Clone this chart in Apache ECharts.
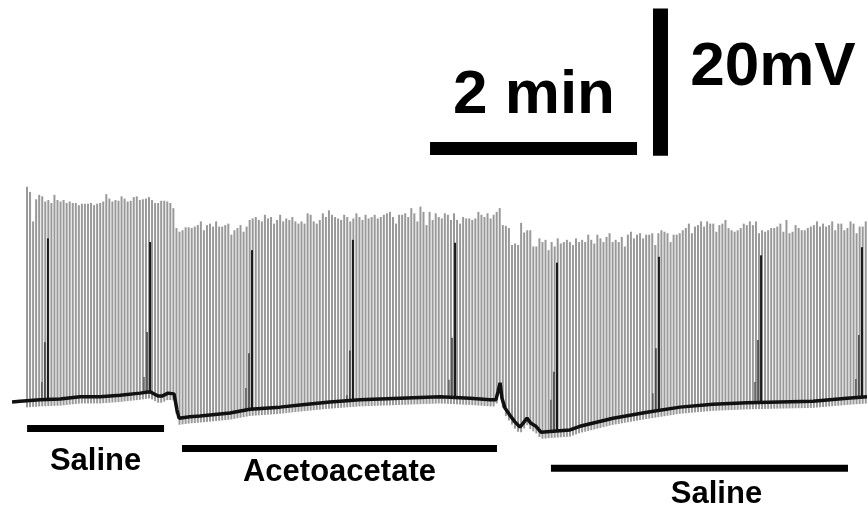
<!DOCTYPE html>
<html>
<head>
<meta charset="utf-8">
<script src="https://cdn.jsdelivr.net/npm/echarts@6/dist/echarts.min.js"></script>
<style>
  html, body { margin: 0; padding: 0; background: #fff; }
  #main { width: 868px; height: 514px; }
</style>
</head>
<body>
<div id="main"></div>
<script>
// time in seconds, membrane potential in mV
var isi = 1.768;                 // interval between spikes
var salineStart = 15.65;
var acetoStart = 102.3;
var washStart = 291.5;

// spike peaks, one per spike
var salinePeaks = [-30.6, -31.3, -35.3, -32.3, -31.7, -31.9, -32.6, -32.4, -32.8, -31.7,
  -32.4, -32.6, -32.4, -32.8, -32.6, -32.8, -32.8, -33.1, -32.9, -32.9,
  -32.9, -32.8, -33.1, -32.9, -32.8, -32.6, -31.6, -32.2, -32.6, -32.4,
  -32.5, -31.9, -32.2, -32.6, -32.5, -32.0, -31.9, -32.4, -32.3, -32.2,
  -32.0, -32.4, -32.8, -32.8, -32.5, -32.5, -32.6, -32.8, -33.5];

var acetoPeaks = [-36.2, -36.7, -36.5, -36.1, -36.1, -36.2, -36.0, -35.8, -35.3, -36.5,
  -35.8, -35.6, -36.0, -35.3, -36.0, -36.0, -35.8, -35.6, -37.1, -36.5,
  -36.2, -35.8, -36.7, -36.0,
  -35.1, -34.9, -34.7, -35.1, -35.3, -34.4, -34.9, -34.7, -35.6, -35.1,
  -34.4, -35.3, -34.9, -35.1, -34.7, -35.3, -35.6, -35.3, -35.6, -34.2,
  -34.4, -35.3, -35.6, -35.1, -34.2, -34.7, -33.8, -34.4, -34.7, -34.9,
  -35.1, -34.4, -34.7, -35.3, -34.9, -34.2, -34.7, -35.1, -34.4, -34.9,
  -34.7, -34.4, -34.9, -34.7, -34.4, -34.2, -34.0, -34.7, -35.6, -34.4,
  -34.4, -34.2, -34.7, -33.5, -34.2, -35.3, -33.3, -34.0, -35.8, -34.0,
  -35.1, -34.2, -34.7, -34.9, -34.2, -34.4, -35.1, -34.2, -35.1, -35.6,
  -34.7, -34.9, -34.9, -35.1, -34.9, -34.0, -34.4, -34.7, -34.2, -34.9,
  -34.4, -34.0, -33.5];

var washPeaks = [-35.8, -35.9, -36.2, -38.5, -38.3, -38.5, -35.5, -36.8, -36.5, -36.5,
  -38.7, -38.7, -37.6, -38.1, -37.8, -39.2,
  -38.1, -38.7, -37.6, -38.3, -38.1, -37.8, -38.1, -38.5, -37.6, -38.1,
  -37.8, -38.1, -37.1, -37.8, -38.3, -37.1, -37.6,
  -38.1, -37.4, -36.9, -38.1, -37.8, -38.1, -37.4, -38.7, -37.1, -36.7,
  -37.6, -37.1, -36.9, -37.6, -37.1, -37.1, -36.9, -38.5, -36.9, -36.5,
  -36.7, -36.9, -38.1, -37.1, -37.1, -36.9, -36.5, -36.2, -35.6, -36.9,
  -36.0, -35.8, -35.3, -36.0, -35.3, -35.6, -35.6, -36.7, -35.8, -35.6,
  -35.1, -36.2, -36.5, -36.7, -36.5, -36.2, -35.6, -35.8, -35.3,
  -35.8, -35.3, -36.9, -36.5, -36.7, -36.5, -36.2, -36.2, -36.0, -35.6,
  -36.7, -35.1, -36.9, -36.7, -35.8, -36.2, -36.5, -36.5, -36.2, -36.0,
  -35.8, -35.3, -36.0, -35.6, -36.0, -35.8, -35.3, -36.5, -35.6, -35.6,
  -36.5, -36.2, -35.3, -35.6, -36.9, -36.0, -36.0, -35.3];

// resting level between spikes [t, mV]
var baseline = [[7.0, -59.8], [11.6, -59.7], [23.2, -59.5], [34.8, -59.4], [46.4, -59.1],
  [58.0, -59.1], [69.6, -58.9], [81.2, -58.6], [87.0, -58.4], [91.6, -59.0],
  [93.9, -59.0], [97.4, -58.6], [100.9, -58.7], [102.6, -60.9], [103.8, -62.0],
  [110.1, -61.8], [115.9, -61.7], [133.3, -61.3], [144.9, -60.8], [162.3, -60.5],
  [173.9, -60.2], [191.3, -59.8], [208.7, -59.5], [231.9, -59.3], [255.1, -59.1],
  [272.5, -59.3], [284.1, -59.5], [287.5, -59.5], [288.7, -58.4], [289.9, -57.2],
  [291.0, -59.3], [292.7, -60.6], [295.6, -61.6], [298.5, -62.5], [301.4, -63.2],
  [303.2, -62.7], [305.5, -62.0], [307.8, -62.7], [310.7, -63.1], [313.6, -63.9],
  [318.8, -63.8], [330.4, -63.6], [336.2, -63.1], [355.4, -62.0], [375.1, -61.2],
  [394.2, -60.5], [413.3, -60.1], [433.0, -59.9], [452.2, -59.8], [471.3, -59.7],
  [491.0, -59.3], [502.6, -59.1]];

// periodic darker events: main spike and the two smaller ones before it
var burstTimes = [27.8, 87.0, 146.1, 204.6, 263.8, 322.9, 382.0, 441.2, 499.7];
var burstPeaks = [-37.6, -38.1, -39.2, -37.8, -38.2, -40.9, -40.1, -39.9, -38.8];
var burstPre1 = [-51.7, -50.3, -53.2, -52.8, -51.1, -55.7, -52.5, -51.4, -50.7];
var burstPre2 = [-57.1, -56.4, -57.9, -58.9, -56.8, -59.5, -58.6, -57.1, -56.7];

var treatNames = ['Saline', 'Acetoacetate', 'Saline'];
var treatStart = [15.7, 105.5, 319.4];
var treatEnd = [95.1, 288.1, 491.6];

var scaleTime = 120;   // 2 min
var scaleVolt = 20;    // 20 mV

// layout
var xMax = 503.2;
var yMin = -75;
var yMax = -5.26;
var treatY = [-63.4, -66.1, -68.8];
var labelDx = [0, 0, 17];
var labelDy = [32.5, 24.5, 26.5];
var font = '"Liberation Sans", Arial, Helvetica, sans-serif';

function baseAt(t) {
  for (var i = 1; i < baseline.length; i++) {
    if (t <= baseline[i][0]) {
      var a = baseline[i - 1], b = baseline[i];
      return a[1] + (b[1] - a[1]) * (t - a[0]) / (b[0] - a[0]);
    }
  }
  return baseline[baseline.length - 1][1];
}

var spikes = [];
[[salineStart, salinePeaks], [acetoStart, acetoPeaks], [washStart, washPeaks]].forEach(function (seg) {
  seg[1].forEach(function (p, i) {
    var t = seg[0] + i * isi;
    spikes.push([t, p, baseAt(t) - 0.9]);
  });
});

var bursts = burstTimes.map(function (t, i) {
  return [t, burstPeaks[i], burstPre1[i], burstPre2[i], baseAt(t)];
});

var treatments = treatNames.map(function (n, i) {
  return [treatStart[i], treatEnd[i], treatY[i], i];
});

var myChart = echarts.init(document.getElementById('main'));

var option = {
  animation: false,
  backgroundColor: '#fff',
  grid: { left: 0, right: 0, top: 0, bottom: 0 },
  xAxis: { type: 'value', min: 0, max: xMax, show: false },
  yAxis: { type: 'value', min: yMin, max: yMax, show: false },
  series: [
    {
      type: 'custom',
      silent: true,
      z: 2,
      data: spikes,
      renderItem: function (params, api) {
        var top = api.coord([api.value(0), api.value(1)]);
        var foot = api.coord([api.value(0), api.value(2)]);
        return {
          type: 'line',
          shape: { x1: top[0], y1: top[1], x2: foot[0], y2: foot[1] },
          style: { stroke: '#999', lineWidth: 2 }
        };
      }
    },
    {
      type: 'custom',
      silent: true,
      z: 3,
      data: bursts,
      renderItem: function (params, api) {
        var t = api.value(0), b = api.value(4);
        var foot = api.coord([t, b])[1];
        var main = api.coord([t, api.value(1)]);
        var p1 = api.coord([t - isi, api.value(2)]);
        var p2 = api.coord([t - 2 * isi, api.value(3)]);
        return {
          type: 'group',
          children: [
            { type: 'line', shape: { x1: p2[0], y1: p2[1], x2: p2[0], y2: foot }, style: { stroke: '#555', lineWidth: 1.4 } },
            { type: 'line', shape: { x1: p1[0], y1: p1[1], x2: p1[0], y2: foot }, style: { stroke: '#444', lineWidth: 1.6 } },
            { type: 'line', shape: { x1: main[0], y1: main[1], x2: main[0], y2: foot }, style: { stroke: '#1a1a1a', lineWidth: 2 } }
          ]
        };
      }
    },
    {
      type: 'line',
      silent: true,
      z: 4,
      data: baseline,
      symbol: 'none',
      lineStyle: { color: '#111', width: 3.5 }
    },
    {
      // treatment bars
      type: 'custom',
      silent: true,
      z: 5,
      data: treatments,
      renderItem: function (params, api) {
        var a = api.coord([api.value(0), api.value(2)]);
        var b = api.coord([api.value(1), api.value(2)]);
        var i = api.value(3);
        return {
          type: 'group',
          children: [
            { type: 'line', shape: { x1: a[0], y1: a[1], x2: b[0], y2: b[1] }, style: { stroke: '#000', lineWidth: 7 } },
            {
              type: 'text',
              style: {
                text: treatNames[i], x: (a[0] + b[0]) / 2 + labelDx[i], y: a[1] + labelDy[i],
                font: 'bold 31px ' + font, fill: '#000', align: 'center', verticalAlign: 'middle'
              }
            }
          ]
        };
      }
    },
    {
      // scale bars
      type: 'custom',
      silent: true,
      z: 5,
      data: [[249.3, -25.4, 382.9, -26.4]],
      renderItem: function (params, api) {
        var h0 = api.coord([api.value(0), api.value(1)]);
        var h1 = api.coord([api.value(0) + scaleTime, api.value(1)]);
        var v0 = api.coord([api.value(2), api.value(3)]);
        var v1 = api.coord([api.value(2), api.value(3) + scaleVolt]);
        return {
          type: 'group',
          children: [
            { type: 'line', shape: { x1: h0[0], y1: h0[1], x2: h1[0], y2: h1[1] }, style: { stroke: '#000', lineWidth: 13 } },
            { type: 'line', shape: { x1: v0[0], y1: v0[1], x2: v1[0], y2: v1[1] }, style: { stroke: '#000', lineWidth: 15 } },
            {
              type: 'text',
              style: {
                text: '2 min', x: (h0[0] + h1[0]) / 2 + 0.5, y: h0[1] - 52.5,
                font: 'bold 62px ' + font, fill: '#000', align: 'center', verticalAlign: 'middle'
              }
            },
            {
              type: 'text',
              style: {
                text: '20mV', x: v0[0] + 112.5, y: v1[1] + 59.5,
                font: 'bold 62px ' + font, fill: '#000', align: 'center', verticalAlign: 'middle'
              }
            }
          ]
        };
      }
    }
  ]
};

myChart.setOption(option);
</script>
</body>
</html>
